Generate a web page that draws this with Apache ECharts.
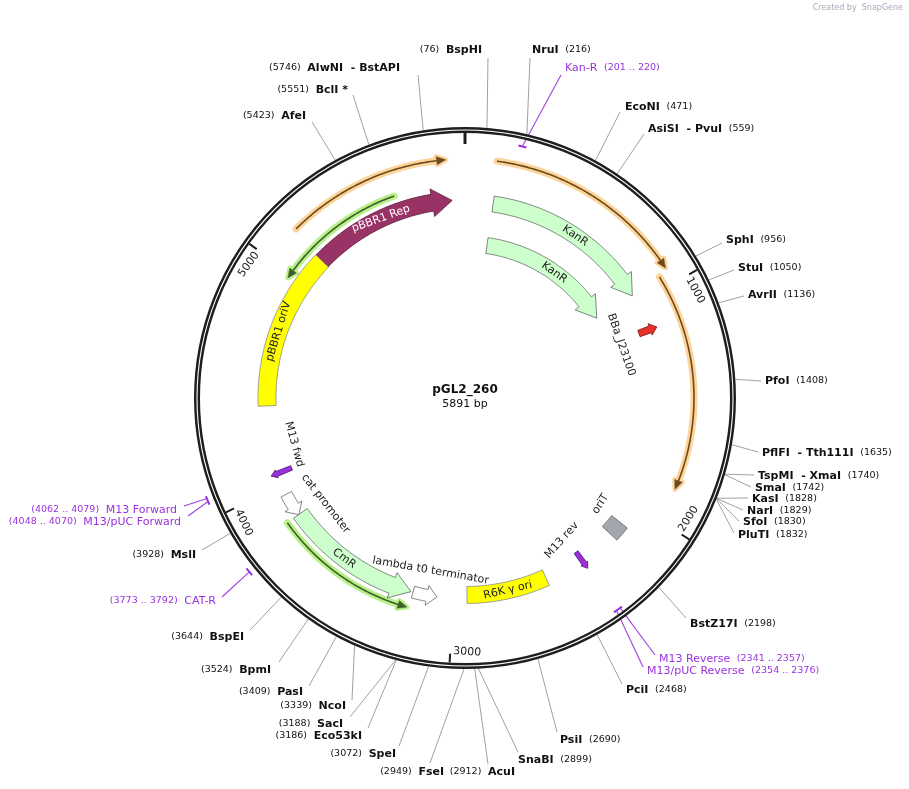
<!DOCTYPE html>
<html><head><meta charset="utf-8">
<script src="https://cdn.jsdelivr.net/npm/echarts@6/dist/echarts.min.js"></script>
<style>html,body{margin:0;padding:0;background:#fff}#c{width:909px;height:789px}</style>
</head><body><div id="c"></div>
<script>
const SEQ_LEN = 5891;
const TITLE = 'pGL2_260';
const tickValues = [0, 1000, 2000, 3000, 4000, 5000];
const tickLabels = ['', '1000', '2000', '3000', '4000', '5000'];

// enzyme / primer site labels
const siteNames = ['BspHI','NruI','Kan-R','EcoNI','AsiSI  - PvuI','SphI','StuI','AvrII','PfoI','PflFI  - Tth111I','TspMI  - XmaI','SmaI','KasI','NarI','SfoI','PluTI','BstZ17I','M13 Reverse','M13/pUC Reverse','PciI','PsiI','SnaBI','AcuI','FseI','SpeI','Eco53kI','SacI','NcoI','PasI','BpmI','BspEI','CAT-R','MslI','M13/pUC Forward','M13 Forward','AfeI','BclI *','AlwNI  - BstAPI'];
const siteText = ['76','216','201 .. 220','471','559','956','1050','1136','1408','1635','1740','1742','1828','1829','1830','1832','2198','2341 .. 2357','2354 .. 2376','2468','2690','2899','2912','2949','3072','3186','3188','3339','3409','3524','3644','3773 .. 3792','3928','4048 .. 4070','4062 .. 4079','5423','5551','5746'];
const sitePos = [76,216,210,471,559,956,1050,1136,1408,1635,1740,1742,1828,1829,1830,1832,2198,2349,2365,2468,2690,2899,2912,2949,3072,3186,3188,3339,3409,3524,3644,3782,3928,4059,4070,5423,5551,5746];
const siteIsPrimer = [0,0,1,0,0,0,0,0,0,0,0,0,0,0,0,0,0,1,1,0,0,0,0,0,0,0,0,0,0,0,0,1,0,1,1,0,0,0];

// features
const featNames = ['pBBR1 Rep','pBBR1 oriV','KanR','KanR','BBa_J23100','oriT','M13 rev','R6K γ ori','lambda t0 terminator','CmR','cat promoter','M13 fwd'];
const featFrom  = [5135, 4381, 135, 134, 1130, 2106, 2350, 2549, 3191, 3845, 3955, 4050];
const featTo    = [5830, 5135, 959, 962, 1150, 2178, 2370, 2936, 3077, 3200, 3844, 4068];
const featR     = [198, 198, 196, 154, 195, 198, 200, 197, 201, 201, 203, 198];
// primer-like arcs
const arcFrom = [5155, 126, 951, 5575, 3844];
const arcTo   = [5815, 933, 1857, 4977, 3200];
const arcR    = [239, 239, 229, 214, 217];
const markFrom = [201, 2341, 3773, 4048];
const markTo   = [220, 2376, 3792, 4079];
const markR    = [258, 261, 277, 277];

// ---- styling / layout (not data) ----
const featStyle = [
  {fill:'#993366', stroke:'#5a1e3c', w:17, hw:28, head:20, kind:'arrow'},
  {fill:'#ffff00', stroke:'#888', w:18, kind:'box'},
  {fill:'#ccffcc', stroke:'#666', w:16, hw:26, head:20, kind:'arrow'},
  {fill:'#ccffcc', stroke:'#666', w:16, hw:26, head:20, kind:'arrow'},
  {fill:'#e8332a', stroke:'#7a1010', w:7, hw:12, head:7, len:19, kind:'radial'},
  {fill:'#a2a6ad', stroke:'#666', w:20, kind:'box'},
  {fill:'#9b30d9', stroke:'#4a1070', w:5, hw:8, head:6, len:20, kind:'radial'},
  {fill:'#ffff00', stroke:'#888', w:17, kind:'box'},
  {fill:'#ffffff', stroke:'#666', w:12, hw:20, head:10, kind:'arrow'},
  {fill:'#ccffcc', stroke:'#666', w:17, hw:27, head:20, kind:'arrow'},
  {fill:'#ffffff', stroke:'#666', w:12, hw:20, head:10, kind:'arrow'},
  {fill:'#9b30d9', stroke:'#4a1070', w:5, hw:8, head:6, len:22, kind:'radial'}
];
// label: [r, bp, rotationDeg, color, fontSize]
const featLabel = [
  [198, 5480, 20, '#fff', 11],
  [198, 4740, 73, '#222', 11],
  [196, 560, -34, '#222', 11],
  [154, 580, -35, '#222', 11],
  [165, 1165, -71, '#222', 11],
  [172, 2095, 58, '#222', 11],
  [172, 2385, 48, '#222', 11],
  [197, 2740, 13, '#222', 11],
  [176, 3130, -10, '#222', 11],
  [201, 3550, -36, '#222', 11],
  [175, 3810, -52, '#222', 11],
  [177, 4170, -75, '#222', 11]
];
const arcStyle = [
  {halo:'#fdd49a', line:'#6b4a1e'},
  {halo:'#fdd49a', line:'#6b4a1e'},
  {halo:'#fdd49a', line:'#6b4a1e'},
  {halo:'#b8f08a', line:'#3f5e2a'},
  {halo:'#b8f08a', line:'#3f5e2a'}
];
const tickAlign = ['left','left','left','left','left','right'];
// label anchor pixel [textX, textY, align, lineEndX, lineEndY]
const siteLayout = [
  [482,50,'right',488,58],[532,50,'left',530,58],[565,68,'left',561,75],[625,107,'left',620,112],
  [648,129,'left',644,134],[726,240,'left',722,243],[738,268,'left',734,270],[748,295,'left',744,296],
  [765,381,'left',761,381],[762,453,'left',758,452],[758,476,'left',754,475],[755,488,'left',751,487],
  [752,499,'left',748,498],[747,511,'left',743,510],[743,522,'left',739,521],[738,535,'left',734,533],
  [690,624,'left',686,618],[659,659,'left',655,655],[647,671,'left',643,667],[626,690,'left',622,684],
  [560,740,'left',557,732],[518,760,'left',518,752],[515,772,'right',488,764],[444,772,'right',430,763],
  [396,754,'right',399,746],[362,736,'right',368,728],[343,724,'right',350,717],[346,706,'right',352,700],
  [303,692,'right',309,686],[271,670,'right',279,662],[244,637,'right',250,630],[216,601,'right',222,597],
  [196,555,'right',202,550],[181,522,'right',188,516],[177,510,'right',184,506],[306,116,'right',312,122],
  [348,90,'right',353,95],[400,68,'right',418,75]
];

const FONT = 'DejaVu Sans';
function bpPerPx(r){ return SEQ_LEN / (2*Math.PI*r); }
function arcPts(api, r, a, b, n){
  const pts=[]; n = n || Math.max(4, Math.ceil(Math.abs(b-a)/8));
  for(let i=0;i<=n;i++){ pts.push(api.coord([r, a+(b-a)*i/n])); }
  return pts;
}
function tanRot(bp){ return -bp/SEQ_LEN*2*Math.PI; }

function renderFeature(params, api){
  const i = api.value(2);
  const st = featStyle[i], r = featR[i], a = featFrom[i], b = featTo[i];
  const children = [];
  let pts;
  if(st.kind==='box'){
    pts = arcPts(api, r+st.w/2, a, b).concat(arcPts(api, r-st.w/2, b, a));
  } else if(st.kind==='radial'){
    const m = (a+b)/2, k = bpPerPx(r);
    const r0 = r - st.len/2, r1 = r + st.len/2, rn = r1 - st.head;
    pts = [api.coord([r0, m-k*st.w/2]), api.coord([rn, m-k*st.w/2]), api.coord([rn, m-k*st.hw/2]),
           api.coord([r1, m]), api.coord([rn, m+k*st.hw/2]), api.coord([rn, m+k*st.w/2]), api.coord([r0, m+k*st.w/2])];
  } else {
    const dir = b>a?1:-1;
    let hb = st.head*bpPerPx(r);
    if(hb > Math.abs(b-a)*0.7) hb = Math.abs(b-a)*0.7;
    const neck = b - dir*hb;
    pts = arcPts(api, r+st.w/2, a, neck)
      .concat([api.coord([r+st.hw/2, neck]), api.coord([r, b]), api.coord([r-st.hw/2, neck])])
      .concat(arcPts(api, r-st.w/2, neck, a));
  }
  children.push({type:'polygon', shape:{points:pts}, style:{fill:st.fill, stroke:st.stroke, lineWidth:0.8}});
  const L = featLabel[i];
  const p = api.coord([L[0], L[1]]);
  children.push({type:'text', x:p[0], y:p[1], rotation:L[2]*Math.PI/180,
    style:{text:featNames[i], fill:L[3], font:L[4]+'px '+FONT, align:'center', verticalAlign:'middle'}});
  return {type:'group', children};
}

function renderArc(params, api){
  const i = api.value(2), st = arcStyle[i], r = arcR[i], a = arcFrom[i], b = arcTo[i];
  const dir = b>a?1:-1;
  const hb = 9*bpPerPx(r);
  const neck = b - dir*hb;
  const line = arcPts(api, r, a, neck);
  const head = [api.coord([r+4, neck]), api.coord([r, b]), api.coord([r-4, neck])];
  return {type:'group', children:[
    {type:'polyline', shape:{points:line}, style:{stroke:st.halo, lineWidth:7, fill:null, lineCap:'round'}},
    {type:'polygon', shape:{points:head}, style:{fill:st.halo, stroke:st.halo, lineWidth:5, lineJoin:'round'}},
    {type:'polyline', shape:{points:line}, style:{stroke:st.line, lineWidth:1.6, fill:null}},
    {type:'polygon', shape:{points:head}, style:{fill:st.line, stroke:st.line, lineWidth:0.5}}
  ]};
}

function renderRing(params, api){
  const c = api.coord([0,0]);
  const children = [
    {type:'circle', shape:{cx:c[0], cy:c[1], r:268}, style:{fill:null, stroke:'#1e1e1e', lineWidth:6}},
    {type:'circle', shape:{cx:c[0], cy:c[1], r:268}, style:{fill:null, stroke:'#fff', lineWidth:1.1}}
  ];
  tickValues.forEach((t,k)=>{
    const p1 = api.coord([265, t]), p2 = api.coord([k===0?254:256, t]);
    children.push({type:'line', shape:{x1:p1[0],y1:p1[1],x2:p2[0],y2:p2[1]}, style:{stroke:'#1e1e1e', lineWidth:k===0?3:2}});
    if(tickLabels[k]){
      const ang = t/SEQ_LEN*360;
      const flip = ang>90 && ang<270;
      const p = api.coord([259, t]);
      children.push({type:'text', x:p[0], y:p[1], rotation:tanRot(t)+(flip?Math.PI:0),
        style:{text:tickLabels[k], fill:'#222', font:'11px '+FONT, align:tickAlign[k],
          verticalAlign:flip?'bottom':'top', padding:[0,3,0,3]}});
    }
  });
  children.push({type:'text', x:c[0], y:c[1]-2, style:{text:TITLE, fill:'#111', font:'bold 12px '+FONT, align:'center', verticalAlign:'bottom'}});
  children.push({type:'text', x:c[0], y:c[1]+1, style:{text:SEQ_LEN+' bp', fill:'#111', font:'11px '+FONT, align:'center', verticalAlign:'top'}});
  for(let m=0;m<markFrom.length;m++){
    const span = Math.max(30, markTo[m]-markFrom[m]);
    const mid = (markFrom[m]+markTo[m])/2;
    children.push({type:'polyline', shape:{points:arcPts(api, markR[m], mid-span/2, mid+span/2, 4)},
      style:{stroke:'#9933dd', lineWidth:2, fill:null}});
  }
  return {type:'group', children};
}

function renderSite(params, api){
  const i = api.value(2);
  const lay = siteLayout[i];
  const primer = siteIsPrimer[i];
  let rr = 271;
  const mIdx = markFrom.findIndex((f,k)=> sitePos[i]>=f-15 && sitePos[i]<=markTo[k]+15);
  if(primer && mIdx>=0) rr = markR[mIdx];
  const p = api.coord([rr, sitePos[i]]);
  const col = primer ? '#9933dd' : '#111';
  const num = '(' + siteText[i] + ')';
  const txt = lay[2]==='left' ? '{b|'+siteNames[i]+'}  {n|'+num+'}' : '{n|'+num+'}  {b|'+siteNames[i]+'}';
  return {type:'group', children:[
    {type:'line', shape:{x1:p[0],y1:p[1],x2:lay[3],y2:lay[4]}, style:{stroke:primer?'#a040e0':'#888', lineWidth:primer?1.1:0.8}},
    {type:'text', x:lay[0], y:lay[1], style:{text:txt, align:lay[2], verticalAlign:'middle',
      rich:{b:{font:(primer?'':'bold ')+'11px '+FONT, fill:col}, n:{font:'9.5px '+FONT, fill:col}}}}
  ]};
}

const chart = echarts.init(document.getElementById('c'), null, {renderer:'canvas'});
chart.setOption({
  backgroundColor:'#fff',
  animation:false,
  polar:{center:[465,398], radius:300},
  angleAxis:{type:'value', min:0, max:SEQ_LEN, startAngle:90, clockwise:true, show:false},
  radiusAxis:{type:'value', min:0, max:300, show:false},
  graphic:[{type:'text', right:6, top:4, style:{text:'Created by  SnapGene', fill:'#aab', font:'8px '+FONT}}],
  series:[
    {type:'custom', coordinateSystem:'polar', encode:{radius:0, angle:1}, renderItem:renderSite, z:1,
      data: sitePos.map((s,i)=>[271, s, i])},
    {type:'custom', coordinateSystem:'polar', encode:{radius:0, angle:1}, renderItem:renderRing, z:2,
      data: [[0,0,0]]},
    {type:'custom', coordinateSystem:'polar', encode:{radius:0, angle:1}, renderItem:renderArc, z:3,
      data: arcFrom.map((a,i)=>[arcR[i], a, i])},
    {type:'custom', coordinateSystem:'polar', encode:{radius:0, angle:1}, renderItem:renderFeature, z:4,
      data: featFrom.map((a,i)=>[featR[i], a, i])}
  ]
});
</script></body></html>
